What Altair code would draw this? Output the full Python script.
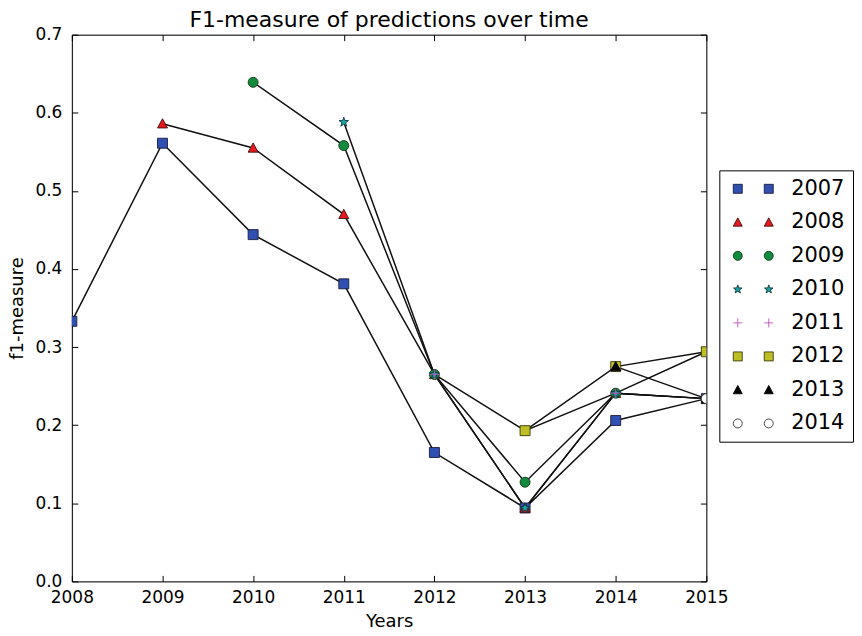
import math
import altair as alt
import pandas as pd

# ---------------- data ----------------
series_names = ["2007", "2008", "2009", "2010", "2011", "2012", "2013", "2014"]
first_years = [2008, 2009, 2010, 2011, 2012, 2013, 2014, 2015]
f1_2007 = [0.333, 0.561, 0.444, 0.381, 0.165, 0.094, 0.206, 0.234]
f1_2008 = [0.586, 0.555, 0.470, 0.265, 0.094, 0.241, 0.234]
f1_2009 = [0.639, 0.558, 0.265, 0.127, 0.241, 0.234]
f1_2010 = [0.588, 0.265, 0.094, 0.241, 0.234]
f1_2011 = [0.265, 0.193, 0.241, 0.294]
f1_2012 = [0.193, 0.275, 0.294]
f1_2013 = [0.275, 0.234]
f1_2014 = [0.234]
all_series = [f1_2007, f1_2008, f1_2009, f1_2010, f1_2011, f1_2012, f1_2013, f1_2014]

x_ticks = [2008, 2009, 2010, 2011, 2012, 2013, 2014, 2015]
y_ticks = [0.0, 0.1, 0.2, 0.3, 0.4, 0.5, 0.6, 0.7]

fill_colors = ["#2f4fb2", "#e8191e", "#138a3c", "#1aa3a8", "transparent", "#bdbd24", "#000000", "#ffffff"]
edge_colors = ["#1c1c3a", "#3a1010", "#103a1a", "#103838", "#c24ec2", "#3a3a10", "#000000", "#333333"]

rows = []
for i, (name, y0, vals) in enumerate(zip(series_names, first_years, all_series)):
    for k, v in enumerate(vals):
        rows.append({"series": name, "order": i, "year": y0 + k, "f1": v})
df = pd.DataFrame(rows)
df_first = df.groupby("series", as_index=False).first()

# ---------------- marker shapes ----------------
def poly(pts, dx=0.0):
    return "M" + "L".join(f"{x + dx:.3f},{y:.3f}" for x, y in pts) + "Z"

def square(dx=0.0):
    return poly([(-1, -1), (1, -1), (1, 1), (-1, 1)], dx)

def triangle(dx=0.0):
    return poly([(0, -1.0), (1.0, 0.85), (-1.0, 0.85)], dx)

def circle(dx=0.0):
    return f"M{1 + dx:.3f},0A1,1 0 1,1 {-1 + dx:.3f},0A1,1 0 1,1 {1 + dx:.3f},0Z"

def star(dx=0.0):
    pts = []
    for j in range(10):
        r = 1.0 if j % 2 == 0 else 0.40
        a = -math.pi / 2 + j * math.pi / 5
        pts.append((r * math.cos(a), r * math.sin(a)))
    return poly(pts, dx)

def plus(dx=0.0):
    return f"M{-1 + dx:.3f},0H{1 + dx:.3f}M{dx:.3f},-1V1"

shape_funcs = [square, triangle, circle, star, plus, square, triangle, circle]
plot_shapes = [f() for f in shape_funcs]
LEG_DX = 6.9
legend_shapes = [f() + " " + f(LEG_DX) for f in shape_funcs]

W, H = 636, 548
FONT = "DejaVu Sans"

xscale = alt.Scale(domain=[2008, 2015], nice=False, zero=False)
yscale = alt.Scale(domain=[0.0, 0.7], nice=False, zero=False)

# tick-only axes with inward ticks (negative size through an expression) and the frame line
tick_common = dict(labels=False, ticks=True, tickSize=alt.ExprRef(expr="-6"), tickColor="black",
                   tickWidth=1, domain=True, domainColor="black", domainWidth=1, grid=False, title=None,
                   minExtent=0, maxExtent=0)

x_main = alt.Axis(values=x_ticks, format="d", title="Years", ticks=False, domain=False, grid=False,
                  labelFont=FONT, labelFontSize=17, labelColor="black", labelPadding=8, labelFlush=False,
                  titleFont=FONT, titleFontSize=18, titleFontWeight="normal", titleColor="black",
                  titlePadding=7)
y_main = alt.Axis(values=y_ticks, format=".1f", title="f1-measure", ticks=False, domain=False, grid=False,
                  labelFont=FONT, labelFontSize=17, labelColor="black", labelPadding=10, labelFlush=False,
                  titleFont=FONT, titleFontSize=18, titleFontWeight="normal", titleColor="black",
                  titlePadding=8)
x_tick_bottom = alt.Axis(orient="bottom", values=x_ticks, **tick_common)
x_tick_top = alt.Axis(orient="top", values=x_ticks, **tick_common)
y_tick_left = alt.Axis(orient="left", values=y_ticks, **tick_common)
y_tick_right = alt.Axis(orient="right", values=y_ticks, **tick_common)

lines = alt.Chart(df).mark_line(color="#111111", strokeWidth=1.5, clip=True).encode(
    x=alt.X("year:Q", scale=xscale, axis=x_main),
    y=alt.Y("f1:Q", scale=yscale, axis=y_main),
    detail="series:N",
    order="year:Q",
)

points = alt.Chart(df).mark_point(filled=True, size=100, strokeWidth=0.9, opacity=1, clip=True).encode(
    x=alt.X("year:Q", scale=xscale, axis=x_tick_bottom),
    y=alt.Y("f1:Q", scale=yscale, axis=y_tick_left),
    shape=alt.Shape("series:N", scale=alt.Scale(domain=series_names, range=plot_shapes), legend=None),
    fill=alt.Fill("series:N", scale=alt.Scale(domain=series_names, range=fill_colors), legend=None),
    stroke=alt.Stroke("series:N", scale=alt.Scale(domain=series_names, range=edge_colors), legend=None),
    order="order:Q",
)

leg = alt.Legend(orient="none", legendX=W + 13, legendY=136, title=None,
                 labelFont=FONT, labelFontSize=21, labelColor="black", labelOffset=43,
                 symbolSize=81, symbolStrokeWidth=0.9, symbolFillColor="white",
                 strokeColor="black", fillColor="white", padding=8, rowPadding=11.6,
                 cornerRadius=0)

legend_layer = alt.Chart(df_first).mark_point(filled=True, size=81, opacity=0, clip=True).encode(
    x=alt.X("year:Q", scale=xscale, axis=x_tick_top),
    y=alt.Y("f1:Q", scale=yscale, axis=y_tick_right),
    shape=alt.Shape("series:N", scale=alt.Scale(domain=series_names, range=legend_shapes), legend=leg),
    fill=alt.Fill("series:N", scale=alt.Scale(domain=series_names, range=fill_colors), legend=leg),
    stroke=alt.Stroke("series:N", scale=alt.Scale(domain=series_names, range=edge_colors), legend=leg),
)

chart = alt.layer(lines, points, legend_layer).resolve_scale(
    shape="independent", fill="independent", stroke="independent"
).resolve_axis(
    x="independent", y="independent"
).properties(
    width=W, height=H,
    padding={"left": 0, "top": 0, "right": 0, "bottom": 0},
    title=alt.TitleParams("F1-measure of predictions over time", font=FONT, fontSize=22,
                          fontWeight="normal", color="black", anchor="middle",
                          offset=alt.ExprRef(expr="-6")),
).configure_view(
    strokeWidth=0
).configure(background="white")

chart.save("out.html", embed_options={"renderer": "svg", "actions": False})
